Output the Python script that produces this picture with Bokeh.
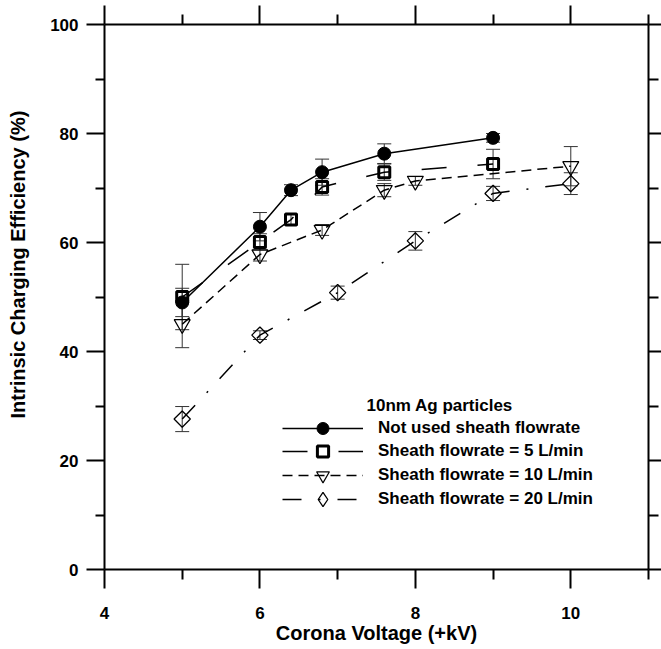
import numpy as np
from bokeh.plotting import figure
from bokeh.models import (Range1d, LinearAxis, FixedTicker, Whisker, TeeHead,
                          ColumnDataSource, Legend, LegendItem, Label, Title)
from bokeh.embed import file_html
from bokeh.resources import INLINE

# ---------------- data ----------------
s1_x = [5, 6, 6.4, 6.8, 7.6, 9]
s1_y = [49.0, 62.9, 69.6, 72.9, 76.3, 79.2]
s1_err = [2.6, 2.6, 1.0, 2.4, 1.8, 0.8]

s2_x = [5, 6, 6.4, 6.8, 7.6, 9]
s2_y = [50.0, 60.1, 64.2, 70.2, 72.9, 74.4]
s2_err = [6.0, 1.5, 1.0, 1.5, 1.5, 2.7]

s3_x = [5, 6, 6.8, 7.6, 8, 10]
s3_y = [45.0, 57.8, 62.3, 69.6, 71.3, 74.0]
s3_err = [4.3, 1.2, 1.0, 1.2, 0.8, 3.6]

s4_x = [5, 6, 7, 8, 9, 10]
s4_y = [27.6, 43.0, 50.8, 60.3, 69.0, 70.8]
s4_err = [2.3, 0.8, 1.2, 1.7, 1.3, 2.0]

series_labels = ["Not used sheath flowrate",
                 "Sheath flowrate = 5 L/min",
                 "Sheath flowrate = 10 L/min",
                 "Sheath flowrate = 20 L/min"]
legend_title = "10nm Ag particles"
x_title = "Corona Voltage (+kV)"
y_title = "Intrinsic Charging Efficiency (%)"
x_ticks = [4, 6, 8, 10]
x_minor = [5, 7, 9, 11]
y_ticks = [0, 20, 40, 60, 80, 100]
y_minor = [10, 30, 50, 70, 90]

FONT = "Liberation Sans"

p = figure(width=661, height=649, output_backend="svg", toolbar_location=None,
           x_range=Range1d(4, 11), y_range=Range1d(0, 100),
           x_axis_location=None, y_axis_location=None,
           min_border_left=104, min_border_right=13,
           min_border_top=24, min_border_bottom=80)
p.xgrid.visible = False
p.ygrid.visible = False
p.outline_line_color = None
p.background_fill_color = "white"
p.border_fill_color = "white"


def style_axis(ax, major_out=19, minor_out=10, labels=True):
    ax.axis_line_width = 2
    ax.axis_line_color = "black"
    ax.major_tick_line_width = 2
    ax.minor_tick_line_width = 2
    ax.major_tick_line_color = "black"
    ax.minor_tick_line_color = "black"
    ax.major_tick_in = 0
    ax.minor_tick_in = 0
    ax.major_tick_out = major_out
    ax.minor_tick_out = minor_out
    if labels:
        ax.major_label_text_font = FONT
        ax.major_label_text_font_style = "bold"
        ax.major_label_text_font_size = "17px"
        ax.major_label_text_color = "black"
    else:
        ax.major_label_text_font_size = "1px"
        ax.major_label_text_color = None
        ax.major_label_standoff = 0
    return ax


xb = style_axis(LinearAxis(ticker=FixedTicker(ticks=x_ticks, minor_ticks=x_minor)))
xb.major_label_standoff = 18
xb.axis_label = x_title
xb.axis_label_text_font = FONT
xb.axis_label_text_font_style = "bold"
xb.axis_label_text_font_size = "20px"
xb.axis_label_text_color = "black"
xb.axis_label_standoff = 0
p.add_layout(xb, "below")

xt = style_axis(LinearAxis(ticker=FixedTicker(ticks=x_ticks, minor_ticks=x_minor)), labels=False)
p.add_layout(xt, "above")

yl = style_axis(LinearAxis(ticker=FixedTicker(ticks=y_ticks, minor_ticks=y_minor)), major_out=18, minor_out=9)
yl.major_label_standoff = 8
p.add_layout(yl, "left")

# blank (invisible) spacer so that the y title sits near the left edge, as in the original
spacer = LinearAxis(ticker=FixedTicker(ticks=[50], minor_ticks=[]),
                    axis_line_color=None, major_tick_line_color=None,
                    minor_tick_line_color=None, major_tick_in=0, major_tick_out=17,
                    minor_tick_in=0, minor_tick_out=0, major_label_standoff=0,
                    major_label_text_font_size="1px", major_label_text_color=None)
p.add_layout(spacer, "left")

p.add_layout(Title(text=y_title, align="left", offset=151, standoff=4,
                   text_font=FONT, text_font_style="bold", text_font_size="20px",
                   text_color="black"), "left")

yr = style_axis(LinearAxis(ticker=FixedTicker(ticks=y_ticks, minor_ticks=y_minor)),
                major_out=13, minor_out=10, labels=False)
p.add_layout(yr, "right")

# ---------------- series ----------------
specs = [
    (s1_x, s1_y, s1_err, dict(line_dash="solid"),
     dict(marker="circle", size=13, fill_color="black", line_color="black", line_width=1), None, 30),
    (s2_x, s2_y, s2_err, dict(line_dash="25 31"),
     dict(marker="square", size=11, fill_color=None, line_color="black", line_width=3), None, 28),
    (s3_x, s3_y, s3_err, dict(line_dash="10 6"),
     dict(marker="inverted_triangle", size=16, fill_color=None, line_color="black", line_width=1.2), None, 32),
    (s4_x, s4_y, s4_err, dict(line_dash="19 17 2 17"),
     dict(marker="square", size=11.5, angle=np.pi / 4, fill_color=None, line_color="black", line_width=1.3),
     dict(marker="diamond", size=16, fill_color=None, line_color="black", line_width=1.3), 36),
]
row_centers = [428, 451, 475, 499]  # legend row centres, px from the top of the canvas
frame_bottom = 569

for (xs, ys, es, lkw, mkw, legkw, gh), lab, rc in zip(specs, series_labels, row_centers):
    src = ColumnDataSource(dict(x=xs, y=ys,
                                upper=[a + b for a, b in zip(ys, es)],
                                lower=[a - b for a, b in zip(ys, es)]))
    wh = Whisker(source=src, base="x", upper="upper", lower="lower", dimension="height",
                 line_color="#333333", line_width=1,
                 upper_head=TeeHead(size=14, line_color="#333333", line_width=1),
                 lower_head=TeeHead(size=14, line_color="#333333", line_width=1))
    p.add_layout(wh)
    lr = p.line("x", "y", source=src, line_color="black", line_width=1.5, **lkw)
    sr = p.scatter("x", "y", source=src, **mkw)
    if legkw is not None:
        # legend-only symbol (the legend does not rotate markers)
        lg = p.scatter("x", "y", source=src, visible=False, **legkw)
        rends = [lr, lg]
    else:
        rends = [lr, sr]
    leg = Legend(items=[LegendItem(label=lab, renderers=rends)],
                 location=(178, frame_bottom - (rc + gh / 2)),
                 glyph_width=81, glyph_height=gh, label_height=20, spacing=0,
                 label_standoff=15, padding=0, margin=0,
                 border_line_color=None, background_fill_alpha=0,
                 inactive_fill_alpha=0,
                 label_text_font=FONT, label_text_font_style="bold",
                 label_text_font_size="17px", label_text_color="black")
    p.add_layout(leg)

p.add_layout(Label(x=262, y=164, x_units="screen", y_units="screen", text=legend_title,
                   text_font=FONT, text_font_style="bold", text_font_size="17px",
                   text_align="left", text_baseline="middle", text_color="black"))

open("out.html", "w").write(file_html(p, INLINE))
